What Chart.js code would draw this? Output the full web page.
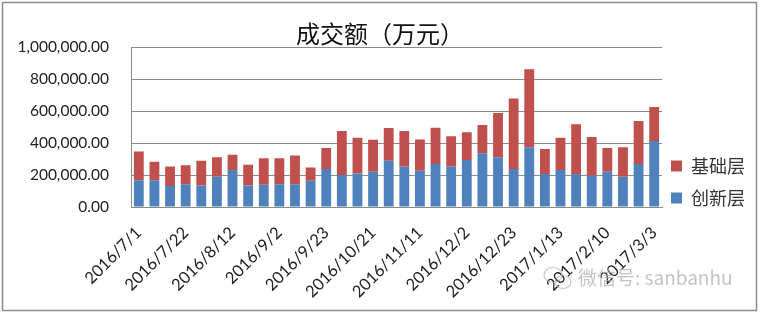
<!DOCTYPE html>
<html>
<head>
<meta charset="utf-8">
<script src="https://cdn.jsdelivr.net/npm/chart.js@4.4.1/dist/chart.umd.min.js"></script>
<style>
  html, body { margin: 0; padding: 0; background: #ffffff; }
  #wrap { width: 760px; height: 314px; position: relative; }
</style>
</head>
<body>
<div id="wrap"><canvas id="c" width="760" height="314"></canvas></div>
<script>
const categories = [
  "2016/7/1","2016/7/8","2016/7/15","2016/7/22","2016/7/29","2016/8/5","2016/8/12","2016/8/19",
  "2016/8/26","2016/9/2","2016/9/9","2016/9/14","2016/9/23","2016/9/30","2016/10/14","2016/10/21",
  "2016/10/28","2016/11/4","2016/11/11","2016/11/18","2016/11/25","2016/12/2","2016/12/9","2016/12/16",
  "2016/12/23","2016/12/30","2017/1/6","2017/1/13","2017/1/20","2017/1/26","2017/2/10","2017/2/17",
  "2017/2/24","2017/3/3"
];
const innovationLayer = [
  168000,168000,131000,143000,135000,189000,232000,135000,
  139000,143000,143000,164000,238000,200000,210000,221000,
  290000,253000,227000,269000,253000,295000,337000,312000,
  238000,375000,206000,232000,206000,196000,221000,189000,
  269000,413000
];
const basicLayer = [
  179000,116000,122000,118000,155000,123000,96000,130000,
  166000,162000,179000,84000,132000,276000,224000,200000,
  205000,223000,196000,228000,191000,174000,177000,277000,
  442000,488000,158000,202000,312000,242000,149000,186000,
  270000,214000
];
const seriesNames = ["创新层", "基础层"];
const yTicks = [0, 200000, 400000, 600000, 800000, 1000000];
const titleText = "成交额（万元）";
const watermarkText = "微信号: sanbanhu";

const gridGray = "#8a8a8a";

const framePlugin = {
  id: "frame",
  afterLayout(chart) {
    const lg = chart.legend;
    if (lg) {
      const dx = -5, dy = 14;
      lg.left += dx; lg.right += dx;
      lg.top += dy; lg.bottom += dy;
    }
  },
  afterDraw(chart) {
    const ctx = chart.ctx;
    ctx.save();
    ctx.strokeStyle = "#8c8c8c";
    ctx.lineWidth = 1.5;
    ctx.strokeRect(2.5, 2.5, 754, 308);
    // watermark
    ctx.globalAlpha = 0.75;
    ctx.strokeStyle = "#b4b4b4";
    ctx.lineWidth = 1.2;
    ctx.beginPath();
    ctx.ellipse(553, 275, 9, 7.5, 0, 0, Math.PI * 2);
    ctx.stroke();
    ctx.beginPath();
    ctx.ellipse(563, 282, 8, 6.5, 0, 0, Math.PI * 2);
    ctx.stroke();
    ctx.fillStyle = "#b0b0b0";
    ctx.font = "19px 'Noto Sans CJK SC', 'Noto Sans', sans-serif";
    ctx.textBaseline = "middle";
    ctx.textAlign = "left";
    ctx.fillText(watermarkText, 578, 278);
    ctx.restore();
  }
};

new Chart(document.getElementById("c"), {
  type: "bar",
  data: {
    labels: categories,
    datasets: [
      { label: seriesNames[0], data: innovationLayer, backgroundColor: "#4F81BD", borderWidth: 0,
        categoryPercentage: 1, barPercentage: 0.63 },
      { label: seriesNames[1], data: basicLayer, backgroundColor: "#C0504D", borderWidth: 0,
        categoryPercentage: 1, barPercentage: 0.63 }
    ]
  },
  options: {
    responsive: false,
    animation: false,
    layout: { padding: { left: 0, right: 0, top: 0, bottom: 0 } },
    plugins: {
      title: {
        display: true,
        text: titleText,
        color: "#111",
        font: { family: "'Noto Sans CJK SC', sans-serif", size: 24, weight: "normal", lineHeight: 1.1 },
        padding: { top: 21, bottom: 0 }
      },
      legend: {
        display: true,
        position: "right",
        align: "end",
        fullSize: false,
        reverse: true,
        labels: {
          boxWidth: 11,
          boxHeight: 11,
          padding: 14,
          color: "#333",
          font: { family: "'Noto Sans CJK SC', sans-serif", size: 18 }
        }
      },
      tooltip: { enabled: false }
    },
    scales: {
      x: {
        stacked: true,
        grid: { display: false, drawTicks: false },
        border: { display: true, color: gridGray, width: 1 },
        ticks: {
          autoSkip: false,
          minRotation: 45,
          maxRotation: 45,
          padding: 16,
          color: "#222",
          font: { family: "Lato, 'Open Sans', sans-serif", size: 16.5 },
          callback: function (v, i) { return i % 3 === 0 ? categories[i] : ""; }
        },
        afterFit(scale) { scale.height = 107; }
      },
      y: {
        stacked: true,
        min: 0,
        max: 1000000,
        afterBuildTicks(scale) { scale.ticks = yTicks.map(v => ({ value: v })); },
        grid: { color: gridGray, lineWidth: 1, drawTicks: false },
        border: { display: true, color: gridGray, width: 1 },
        ticks: {
          padding: 22,
          color: "#222",
          font: { family: "Lato, 'Open Sans', sans-serif", size: 15.5 },
          callback: v => Number(v).toLocaleString("en-US", { minimumFractionDigits: 2, maximumFractionDigits: 2 })
        },
        afterFit(scale) { scale.width = 131; }
      }
    }
  },
  plugins: [framePlugin]
});
</script>
</body>
</html>
